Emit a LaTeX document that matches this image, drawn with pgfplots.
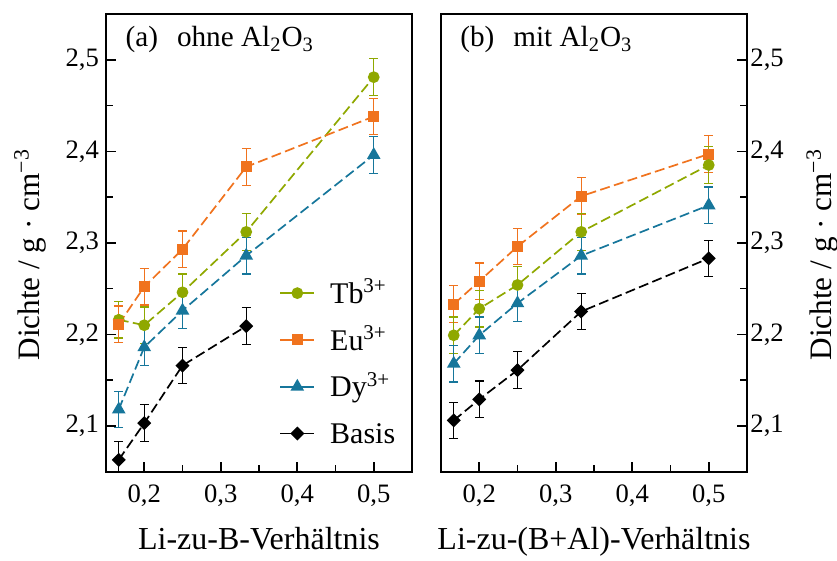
\documentclass[border=0pt]{standalone}
\usepackage{fontspec}
\setmainfont{Liberation Serif}
\usepackage{pgfplots}
\usepackage{pgfplotstable}
\pgfplotsset{compat=1.18}
\definecolor{cTb}{RGB}{143,168,0}
\definecolor{cEu}{RGB}{240,115,30}
\definecolor{cDy}{RGB}{22,118,155}

% (a) ohne Al2O3
\pgfplotstableread{
x y e
0.16667 2.216 0.02
0.2 2.210 0.02
0.25 2.246 0.02
0.33333 2.312 0.02
0.5 2.481 0.02
}\TbA
\pgfplotstableread{
x y e
0.16667 2.211 0.02
0.2 2.252 0.02
0.25 2.293 0.02
0.33333 2.383 0.02
0.5 2.438 0.02
}\EuA
\pgfplotstableread{
x y e
0.16667 2.118 0.02
0.2 2.186 0.02
0.25 2.226 0.02
0.33333 2.286 0.02
0.5 2.396 0.02
}\DyA
\pgfplotstableread{
x y e
0.16667 2.063 0.02
0.2 2.103 0.02
0.25 2.166 0.02
0.33333 2.209 0.02
}\BaA
% (b) mit Al2O3
\pgfplotstableread{
x y e
0.16667 2.199 0.02
0.2 2.228 0.02
0.25 2.254 0.02
0.33333 2.312 0.02
0.5 2.385 0.02
}\TbB
\pgfplotstableread{
x y e
0.16667 2.233 0.02
0.2 2.258 0.02
0.25 2.296 0.02
0.33333 2.351 0.02
0.5 2.397 0.02
}\EuB
\pgfplotstableread{
x y e
0.16667 2.168 0.02
0.2 2.199 0.02
0.25 2.234 0.02
0.33333 2.286 0.02
0.5 2.341 0.02
}\DyB
\pgfplotstableread{
x y e
0.16667 2.106 0.02
0.2 2.129 0.02
0.25 2.161 0.02
0.33333 2.225 0.02
0.5 2.283 0.02
}\BaB

\pgfplotsset{
  base/.style={
    scale only axis, width=153pt, height=228.85pt,
    xmin=0.15, xmax=0.55, ymin=2.05, ymax=2.55,
    xtick={0.2,0.3,0.4,0.5}, minor xtick={0.25,0.35,0.45},
    ytick={2.1,2.2,2.3,2.4,2.5}, minor ytick={2.15,2.25,2.35,2.45},
    tick align=inside, xtick pos=bottom,
    major tick length=5pt, minor tick length=3.3pt,
    axis line style={line width=1pt},
    tick style={black, line width=0.8pt},
    /pgf/number format/use comma,
    /pgf/number format/assume math mode=true,
    tick label style={font=\fontsize{13.3}{16}\selectfont},
    xticklabel shift=3pt,
    every axis x label/.style={at={(axis description cs:0.5,0)}, anchor=base, yshift=-38.8pt, font=\fontsize{16}{19}\selectfont},
    ylabel={Dichte / g · cm\textsuperscript{−3}},
    legend image code/.code={\draw[mark repeat=2, mark phase=2, solid] plot coordinates {(0pt,0pt) (8.5pt,0pt) (17pt,0pt)};},
  },
  dstyle/.style={
    dash pattern=on 5pt off 2.2pt, line width=0.85pt,
    /pgfplots/error bars/y dir=both,
    /pgfplots/error bars/y explicit,
    /pgfplots/error bars/error bar style={solid, line width=0.6pt},
    /pgfplots/error bars/error mark options={rotate=90, mark size=2.2pt, line width=0.6pt, solid},
  },
  tbs/.style={color=cTb, mark=*, mark size=2.5pt, dstyle, mark options={solid}},
  eus/.style={color=cEu, mark=square*, mark size=2.3pt, dstyle, mark options={solid}},
  dys/.style={color=cDy, mark=triangle*, mark size=3.1pt, dstyle, mark options={solid}},
  bas/.style={color=black, mark=square*, mark size=2.05pt, dstyle, mark options={solid, rotate=45}},
}

\begin{document}
\begin{tikzpicture}
\begin{axis}[base,
  ytick pos=left,
  xlabel={Li-zu-B-Verhältnis},
  every axis y label/.style={at={(axis description cs:-0.2187,0.474)}, anchor=base, rotate=90, font=\fontsize{15.6}{18}\selectfont},
  legend cell align=left,
  legend style={at={(rel axis cs:0.546,0.034)}, anchor=south west, draw=none, fill=none,
    font=\fontsize{15}{17}\selectfont, row sep=5.2pt, column sep=5.5pt,
    nodes={text height=12.2pt, text depth=2pt}},
]
\addplot[tbs] table[x=x,y=y,y error=e]{\TbA};
\addlegendentry{Tb\textsuperscript{3+}}
\addplot[eus] table[x=x,y=y,y error=e]{\EuA};
\addlegendentry{Eu\textsuperscript{3+}}
\addplot[dys] table[x=x,y=y,y error=e]{\DyA};
\addlegendentry{Dy\textsuperscript{3+}}
\addplot[bas] table[x=x,y=y,y error=e]{\BaA};
\addlegendentry{Basis}
\node[anchor=base west, inner sep=0pt, font=\fontsize{14.6}{17}\selectfont] at (rel axis cs:0.0630,0.928) {(a)\hspace{0.65em}ohne Al\textsubscript{2}O\textsubscript{3}};
\end{axis}
\begin{axis}[base, at={(167.5pt,0pt)},
  ytick pos=right, yticklabel pos=right,
  yticklabel shift=-1.8pt,
  xlabel={Li-zu-(B+Al)-Verhältnis},
  every axis y label/.style={at={(axis description cs:1.2758,0.474)}, anchor=base, rotate=90, font=\fontsize{15.6}{18}\selectfont},
]
\addplot[eus] table[x=x,y=y,y error=e]{\EuB};
\addplot[tbs] table[x=x,y=y,y error=e]{\TbB};
\addplot[dys] table[x=x,y=y,y error=e]{\DyB};
\addplot[bas] table[x=x,y=y,y error=e]{\BaB};
\node[anchor=base west, inner sep=0pt, font=\fontsize{14.6}{17}\selectfont] at (rel axis cs:0.0620,0.928) {(b)\hspace{0.65em}mit Al\textsubscript{2}O\textsubscript{3}};
\end{axis}
\pgfresetboundingbox
\path[use as bounding box] (-53pt,-44.65pt) rectangle (365.5pt,235.85pt);
\end{tikzpicture}
\end{document}
